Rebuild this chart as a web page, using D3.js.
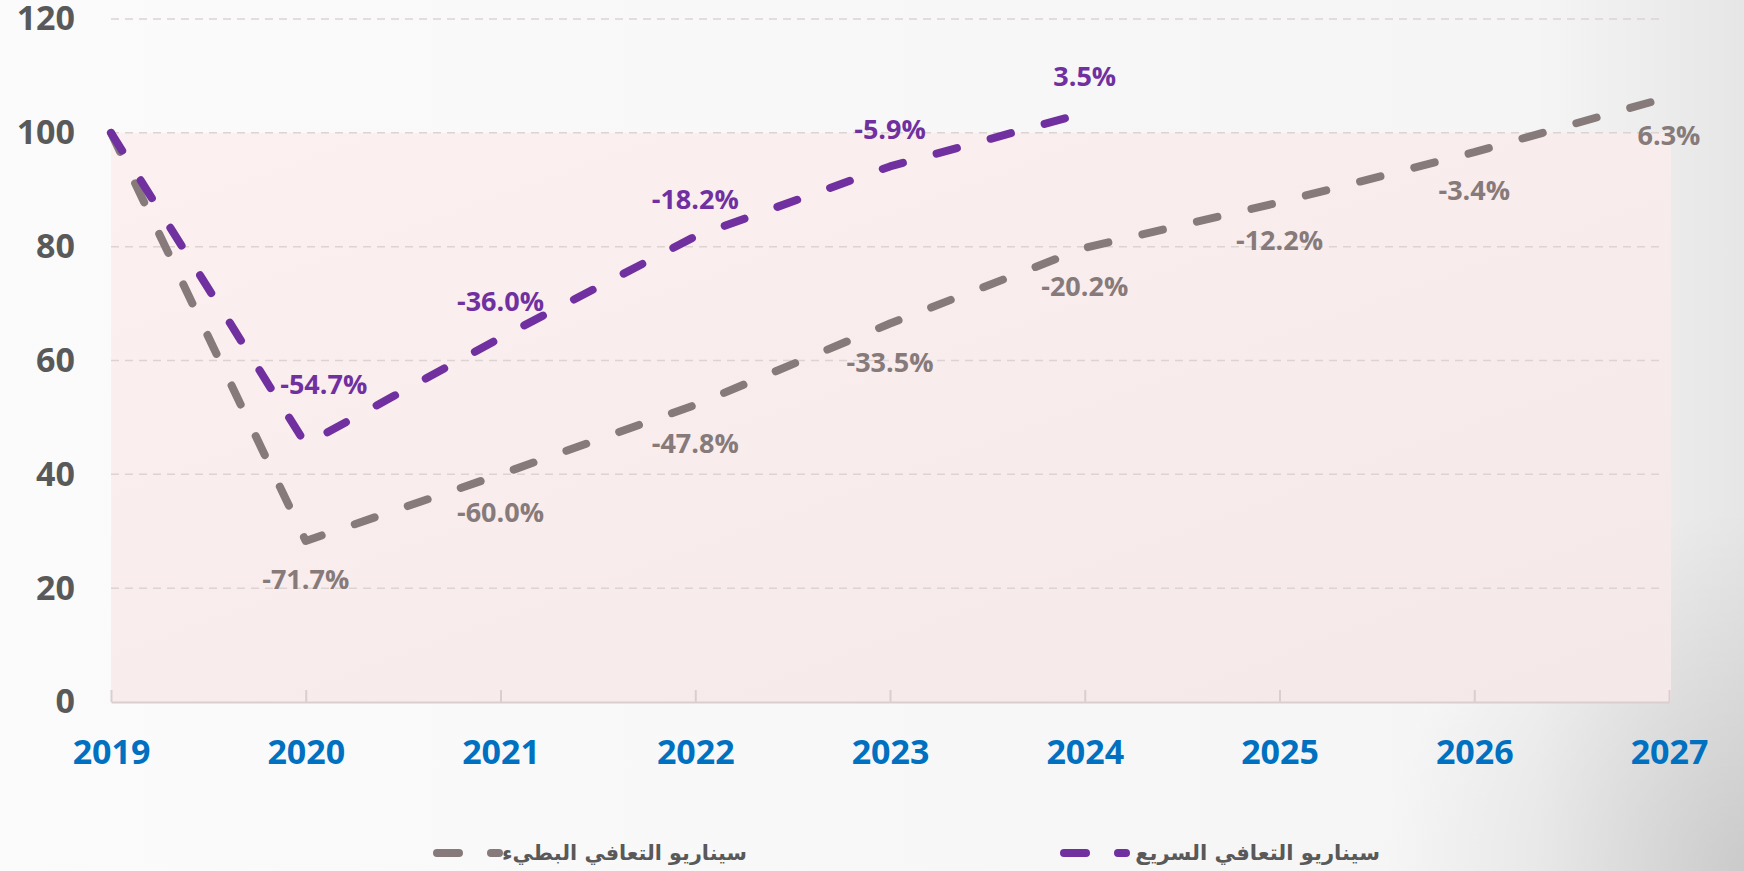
<!DOCTYPE html>
<html>
<head>
<meta charset="utf-8">
<script src="https://cdn.jsdelivr.net/npm/d3@7"></script>
<style>
  html, body { margin: 0; padding: 0; overflow: hidden; }
  svg { display: block; }
</style>
</head>
<body>
<svg id="chart" width="1744" height="871"></svg>
<script>
// data (index = 100 in 2019)
const years = ["2019", "2020", "2021", "2022", "2023", "2024", "2025", "2026", "2027"];
const slowValues = [100, 28.3, 40.0, 52.2, 66.5, 79.8, 87.8, 96.6, 106.3];
const slowLabels = ["", "-71.7%", "-60.0%", "-47.8%", "-33.5%", "-20.2%", "-12.2%", "-3.4%", "6.3%"];
const fastValues = [100, 45.3, 64.0, 81.8, 94.1, 103.5];
const fastLabels = ["", "-54.7%", "-36.0%", "-18.2%", "-5.9%", "3.5%"];
const yTicks = [0, 20, 40, 60, 80, 100, 120];
const legendSlow = "سيناريو التعافي البطيء";
const legendFast = "سيناريو التعافي السريع";

const svg = d3.select("#chart");
const W = 1744, H = 871;
const slowColor = "#867a7a", fastColor = "#7030a0";

const defs = svg.append("defs");
const bg = defs.append("linearGradient").attr("id", "bg").attr("x1", 0).attr("y1", 0).attr("x2", 1).attr("y2", 0);
bg.append("stop").attr("offset", "0%").attr("stop-color", "#fbfbfb");
bg.append("stop").attr("offset", "88%").attr("stop-color", "#f5f5f5");
bg.append("stop").attr("offset", "100%").attr("stop-color", "#e6e6e6");
const corner = defs.append("radialGradient").attr("id", "corner")
  .attr("gradientUnits", "userSpaceOnUse")
  .attr("cx", W).attr("cy", H).attr("r", 360);
corner.append("stop").attr("offset", "0%").attr("stop-color", "#000").attr("stop-opacity", 0.12);
corner.append("stop").attr("offset", "100%").attr("stop-color", "#000").attr("stop-opacity", 0);
const band = defs.append("linearGradient").attr("id", "band").attr("x1", 0).attr("y1", 0).attr("x2", 1).attr("y2", 1);
band.append("stop").attr("offset", "0%").attr("stop-color", "#fdf0f0");
band.append("stop").attr("offset", "100%").attr("stop-color", "#f5e8e8");

svg.append("rect").attr("width", W).attr("height", H).attr("fill", "url(#bg)");
svg.append("rect").attr("width", W).attr("height", H).attr("fill", "url(#corner)");

const x = d3.scalePoint().domain(years).range([111, 1669]);
const y = d3.scaleLinear().domain([0, 120]).range([702, 19]);

// pink band between 0 and 100
svg.append("rect")
  .attr("x", x(years[0]))
  .attr("y", y(100))
  .attr("width", x(years[years.length - 1]) - x(years[0]) + 2)
  .attr("height", y(0) - y(100))
  .attr("fill", "url(#band)");

// gridlines
svg.append("g")
  .selectAll("line")
  .data(yTicks.filter(d => d > 0))
  .enter()
  .append("line")
  .attr("x1", x(years[0]))
  .attr("x2", 1665)
  .attr("y1", d => y(d))
  .attr("y2", d => y(d))
  .attr("stroke", "#dcd3d3")
  .attr("stroke-width", 1.5)
  .attr("stroke-dasharray", "8 6");

// y axis
const yAxis = svg.append("g")
  .attr("transform", `translate(${x(years[0])},0)`)
  .call(d3.axisLeft(y).tickValues(yTicks).tickSize(0).tickPadding(36));
yAxis.select(".domain").remove();
yAxis.selectAll("text")
  .attr("font-family", "'Open Sans', sans-serif")
  .attr("font-weight", "bold")
  .attr("font-size", 34)
  .attr("fill", "#595959");

// x axis
const xAxis = svg.append("g")
  .attr("transform", `translate(0,${y(0)})`)
  .call(d3.axisBottom(x).tickSizeInner(-12).tickSizeOuter(0).tickPadding(38));
xAxis.select(".domain").attr("stroke", "#d9cfd0").attr("stroke-width", 2);
xAxis.selectAll(".tick line").attr("stroke", "#d9cfd0").attr("stroke-width", 2);
xAxis.selectAll("text")
  .attr("font-family", "'Open Sans', sans-serif")
  .attr("font-weight", "bold")
  .attr("font-size", 34)
  .attr("fill", "#0070c0");

const line = d3.line()
  .x((d, i) => x(years[i]))
  .y(d => y(d));

svg.append("path")
  .datum(slowValues)
  .attr("d", line)
  .attr("fill", "none")
  .attr("stroke", slowColor)
  .attr("stroke-width", 8)
  .attr("stroke-linecap", "round")
  .attr("stroke-linejoin", "round")
  .attr("stroke-dasharray", "21 35");

svg.append("path")
  .datum(fastValues)
  .attr("d", line)
  .attr("fill", "none")
  .attr("stroke", fastColor)
  .attr("stroke-width", 8)
  .attr("stroke-linecap", "round")
  .attr("stroke-linejoin", "round")
  .attr("stroke-dasharray", "21 35");

// data labels
svg.append("g")
  .selectAll("text")
  .data(slowValues.map((v, i) => ({ v, i, t: slowLabels[i] })).filter(d => d.t))
  .enter()
  .append("text")
  .attr("x", d => x(years[d.i]))
  .attr("y", d => y(d.v) + 48)
  .attr("text-anchor", "middle")
  .attr("font-family", "'Open Sans', sans-serif")
  .attr("font-weight", "bold")
  .attr("font-size", 27)
  .attr("fill", slowColor)
  .text(d => d.t);

svg.append("g")
  .selectAll("text")
  .data(fastValues.map((v, i) => ({ v, i, t: fastLabels[i] })).filter(d => d.t))
  .enter()
  .append("text")
  // the 2020 label sits to the right of the dip
  .attr("x", d => x(years[d.i]) + (d.i === 1 ? 18 : 0))
  .attr("y", d => y(d.v) - (d.i === 1 ? 50 : 27))
  .attr("text-anchor", "middle")
  .attr("font-family", "'Open Sans', sans-serif")
  .attr("font-weight", "bold")
  .attr("font-size", 27)
  .attr("fill", fastColor)
  .text(d => d.t);

// legend
const legend = [
  { name: legendSlow, color: slowColor, x0: 437, xEnd: 747 },
  { name: legendFast, color: fastColor, x0: 1064, xEnd: 1380 }
];
const lg = svg.append("g")
  .selectAll("g")
  .data(legend)
  .enter()
  .append("g");
lg.append("line")
  .attr("x1", d => d.x0)
  .attr("x2", d => d.x0 + 62)
  .attr("y1", 853)
  .attr("y2", 853)
  .attr("stroke", d => d.color)
  .attr("stroke-width", 8)
  .attr("stroke-linecap", "round")
  .attr("stroke-dasharray", "22 32");
lg.append("text")
  .attr("x", d => d.xEnd)
  .attr("y", 860)
  .attr("text-anchor", "end")
  .attr("font-family", "'DejaVu Sans', sans-serif")
  .attr("font-weight", "bold")
  .attr("font-size", 24)
  .attr("fill", "#595959")
  .text(d => d.name)
  .each(function () {
    // shrink to the width the legend text takes in the original
    const w = this.getComputedTextLength();
    if (w > 245) d3.select(this).attr("font-size", 24 * 245 / w);
  });
</script>
</body>
</html>
